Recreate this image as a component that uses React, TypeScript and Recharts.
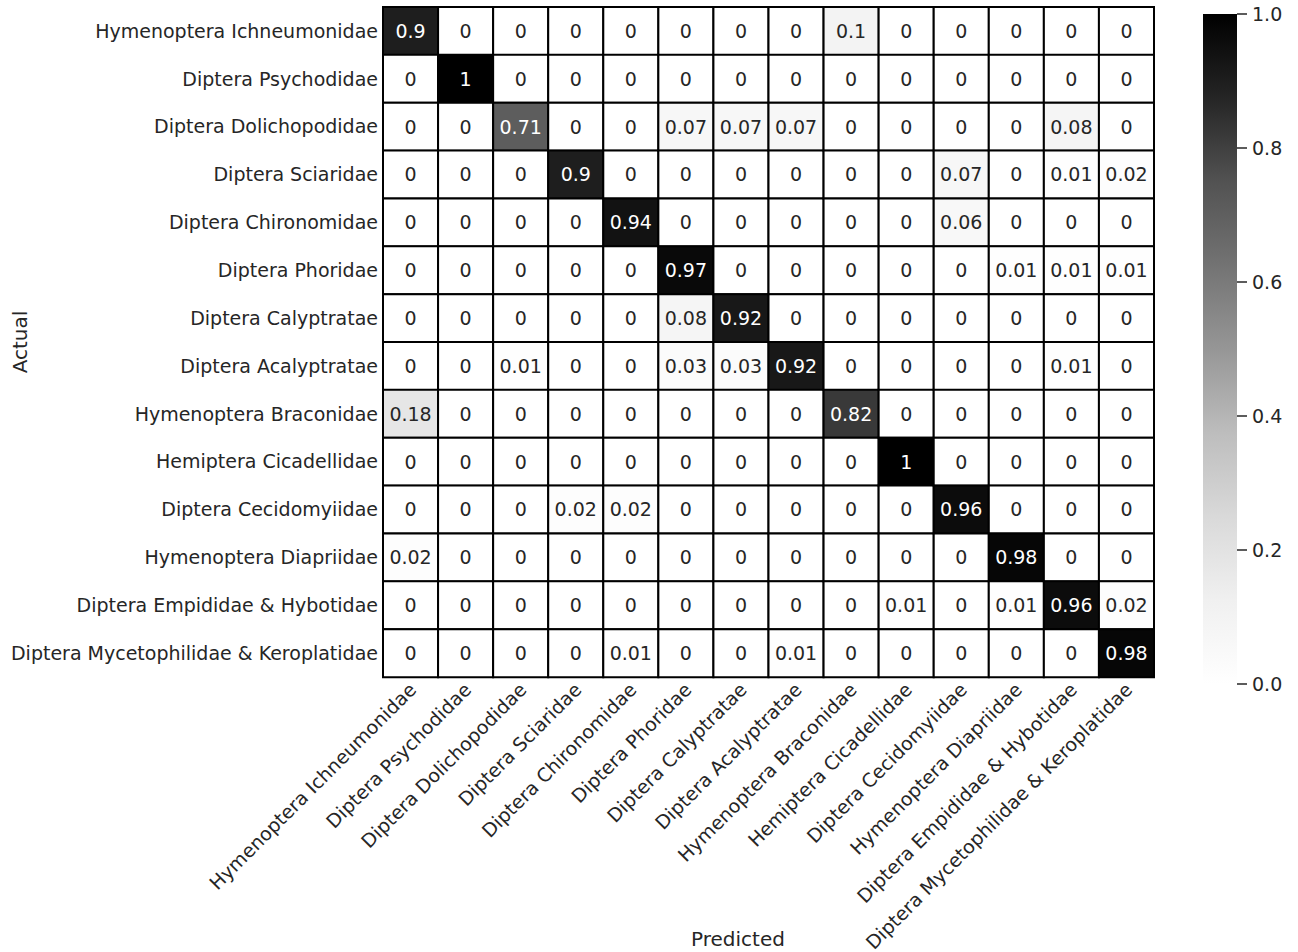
import { Bar, BarChart, Cell, Label, LabelList, XAxis, YAxis } from 'recharts';

const classNames = [
  'Hymenoptera Ichneumonidae',
  'Diptera Psychodidae',
  'Diptera Dolichopodidae',
  'Diptera Sciaridae',
  'Diptera Chironomidae',
  'Diptera Phoridae',
  'Diptera Calyptratae',
  'Diptera Acalyptratae',
  'Hymenoptera Braconidae',
  'Hemiptera Cicadellidae',
  'Diptera Cecidomyiidae',
  'Hymenoptera Diapriidae',
  'Diptera Empididae & Hybotidae',
  'Diptera Mycetophilidae & Keroplatidae',
];

// rows = actual, columns = predicted
const confusion: number[][] = [
  [0.9, 0, 0, 0, 0, 0, 0, 0, 0.1, 0, 0, 0, 0, 0],
  [0, 1, 0, 0, 0, 0, 0, 0, 0, 0, 0, 0, 0, 0],
  [0, 0, 0.71, 0, 0, 0.07, 0.07, 0.07, 0, 0, 0, 0, 0.08, 0],
  [0, 0, 0, 0.9, 0, 0, 0, 0, 0, 0, 0.07, 0, 0.01, 0.02],
  [0, 0, 0, 0, 0.94, 0, 0, 0, 0, 0, 0.06, 0, 0, 0],
  [0, 0, 0, 0, 0, 0.97, 0, 0, 0, 0, 0, 0.01, 0.01, 0.01],
  [0, 0, 0, 0, 0, 0.08, 0.92, 0, 0, 0, 0, 0, 0, 0],
  [0, 0, 0.01, 0, 0, 0.03, 0.03, 0.92, 0, 0, 0, 0, 0.01, 0],
  [0.18, 0, 0, 0, 0, 0, 0, 0, 0.82, 0, 0, 0, 0, 0],
  [0, 0, 0, 0, 0, 0, 0, 0, 0, 1, 0, 0, 0, 0],
  [0, 0, 0, 0.02, 0.02, 0, 0, 0, 0, 0, 0.96, 0, 0, 0],
  [0.02, 0, 0, 0, 0, 0, 0, 0, 0, 0, 0, 0.98, 0, 0],
  [0, 0, 0, 0, 0, 0, 0, 0, 0, 0.01, 0, 0.01, 0.96, 0.02],
  [0, 0, 0, 0, 0.01, 0, 0, 0.01, 0, 0, 0, 0, 0, 0.98],
];

const colorbarTicks = [0, 0.2, 0.4, 0.6, 0.8, 1];

// matplotlib "Greys"
const greysStops = ['#ffffff', '#f0f0f0', '#d9d9d9', '#bdbdbd', '#969696', '#737373', '#525252', '#252525', '#000000'];

const FONT = '"DejaVu Sans", sans-serif';
const INK = '#262626';
const FS = 19;

function greys(v: number) {
  const t = Math.max(0, Math.min(1, v)) * (greysStops.length - 1);
  const i = Math.min(Math.floor(t), greysStops.length - 2);
  const f = t - i;
  const a = parseInt(greysStops[i].slice(1, 3), 16);
  const b = parseInt(greysStops[i + 1].slice(1, 3), 16);
  const g = Math.round(a + (b - a) * f).toString(16).padStart(2, '0');
  return `#${g}${g}${g}`;
}

// each row is a stack of 14 unit-wide cells
const rows = classNames.map((name) => {
  const r: Record<string, string | number> = { name };
  classNames.forEach((_, j) => (r[`c${j}`] = 1));
  return r;
});

const colTicks = classNames.map((_, j) => j + 0.5);

function ColTick(props: any) {
  const { x, y, payload } = props;
  const label = classNames[Math.floor(payload.value)];
  const ax = x + 7;
  const ay = y + 14;
  return (
    <text x={ax} y={ay} transform={`rotate(-45 ${ax} ${ay})`} textAnchor="end" fontSize={FS} fill={INK} fontFamily={FONT}>
      {label}
    </text>
  );
}

function cellLabel(col: number) {
  return (props: any) => {
    const { x, y, width, height, index } = props;
    const v = confusion[index][col];
    return (
      <text
        x={x + width / 2}
        y={y + height / 2}
        dy="0.36em"
        textAnchor="middle"
        fontSize={FS}
        fontFamily={FONT}
        fill={v > 0.5 ? '#ffffff' : INK}
      >
        {String(v)}
      </text>
    );
  };
}

export default function App() {
  return (
    <div style={{ position: 'absolute', left: 0, top: 0, width: 1298, height: 952, background: '#fff', fontFamily: FONT }}>
      <div style={{ position: 'absolute', left: 0, top: 0 }}>
        <BarChart
          width={1298}
          height={952}
          data={rows}
          layout="vertical"
          margin={{ top: 7, right: 144, bottom: 0, left: 0 }}
          barCategoryGap={0}
          barGap={0}
        >
          <XAxis
            type="number"
            domain={[0, 14]}
            ticks={colTicks}
            interval={0}
            height={275}
            axisLine={false}
            tickLine={false}
            tickSize={0}
            tickMargin={0}
            tick={<ColTick />}
          >
            <Label
              content={(p: any) => {
                const vb = p.viewBox;
                return (
                  <text x={738} y={vb.y + vb.height - 6} textAnchor="middle" fontSize={20} fill={INK} fontFamily={FONT}>
                    Predicted
                  </text>
                );
              }}
            />
          </XAxis>
          <YAxis
            type="category"
            dataKey="name"
            width={383}
            interval={0}
            axisLine={false}
            tickLine={false}
            tickSize={0}
            tickMargin={5}
            tick={{ fontSize: FS, fill: INK, fontFamily: FONT }}
          >
            <Label
              content={(p: any) => {
                const vb = p.viewBox;
                const cy = vb.y + vb.height / 2;
                return (
                  <text x={27} y={cy} transform={`rotate(-90 27 ${cy})`} textAnchor="middle" fontSize={20} fill={INK} fontFamily={FONT}>
                    Actual
                  </text>
                );
              }}
            />
          </YAxis>
          {classNames.map((_, j) => (
            <Bar key={j} dataKey={`c${j}`} stackId="m" isAnimationActive={false} stroke="#000" strokeWidth={2}>
              {rows.map((__, i) => (
                <Cell key={i} fill={greys(confusion[i][j])} />
              ))}
              <LabelList dataKey={`c${j}`} content={cellLabel(j)} />
            </Bar>
          ))}
        </BarChart>
      </div>
      <div style={{ position: 'absolute', left: 1150, top: 0 }}>
        <BarChart
          width={148}
          height={700}
          data={[{ name: 'scale', v: 1 }]}
          margin={{ top: 14, right: 0, bottom: 16, left: 53 }}
          barCategoryGap={0}
        >
          <defs>
            <linearGradient id="greysGrad" x1="0" y1="1" x2="0" y2="0">
              {greysStops.map((c, k) => (
                <stop key={k} offset={`${(k / (greysStops.length - 1)) * 100}%`} stopColor={c} />
              ))}
            </linearGradient>
          </defs>
          <XAxis type="category" dataKey="name" hide />
          <YAxis
            orientation="right"
            type="number"
            domain={[0, 1]}
            ticks={colorbarTicks}
            interval={0}
            width={61}
            axisLine={false}
            tickSize={10}
            tickMargin={5}
            tickLine={{ stroke: INK, strokeWidth: 1.5 }}
            tickFormatter={(v: number) => v.toFixed(1)}
            tick={{ fontSize: FS, fill: INK, fontFamily: FONT }}
          />
          <Bar dataKey="v" fill="url(#greysGrad)" isAnimationActive={false} />
        </BarChart>
      </div>
    </div>
  );
}
